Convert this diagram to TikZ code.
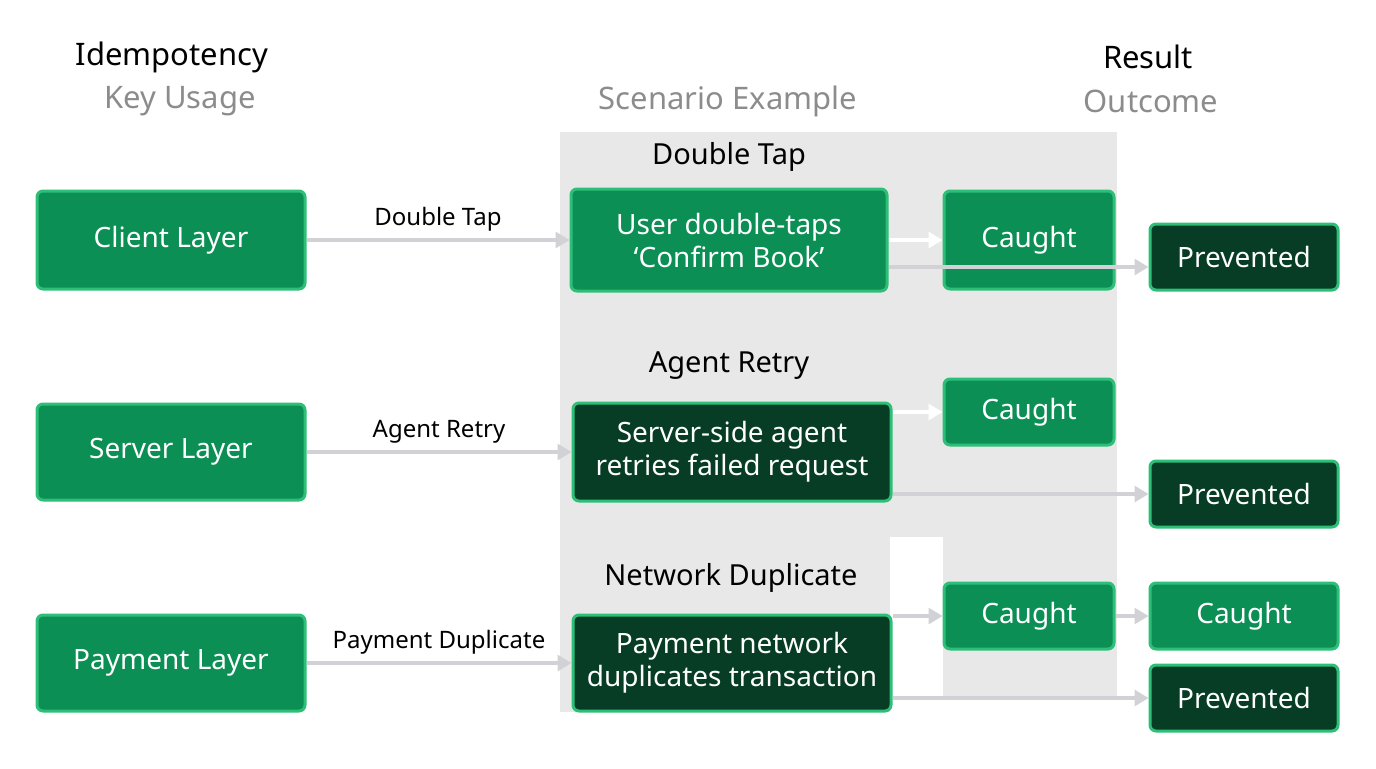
\documentclass[tikz,border=0pt]{standalone}
\usepackage{fontspec}
\setmainfont{Noto Sans}
\usetikzlibrary{positioning,arrows.meta}
\definecolor{midgreen}{HTML}{0B8F55}
\definecolor{darkgreen}{HTML}{063D24}
\definecolor{edgegreen}{HTML}{2DBE78}
\definecolor{bggrey}{HTML}{E8E8E8}
\definecolor{arrowgrey}{HTML}{D2D2D6}
\definecolor{subgrey}{HTML}{8C8C8C}
\tikzset{
  layer/.style={draw=edgegreen, line width=1.5pt, fill=midgreen, rounded corners=3pt,
    text=white, font=\fontsize{14}{16.5}\selectfont, align=center, inner sep=0pt},
  dark/.style={layer, fill=darkgreen},
  head/.style={font=\fontsize{15.5}{18}\selectfont},
  sub/.style={font=\fontsize{15.5}{18}\selectfont, text=subgrey},
  lbl/.style={font=\fontsize{12}{14}\selectfont},
  flow/.style={draw=arrowgrey, line width=1.6pt, -{Triangle[length=7pt,width=8pt]}},
  wflow/.style={flow, draw=white}
}
\begin{document}
\begin{tikzpicture}[x=0.5pt, y=-0.5pt]
\useasboundingbox (0,0) rectangle (1376,768);
% backdrop
\fill[bggrey] (560,132) rectangle (1117,537);
\fill[bggrey] (560,537) rectangle (890,712);
\fill[bggrey] (943,537) rectangle (1117,697);
% headers
\node[head] (h1) at (172,57) {Idempotency};
\node[sub] (h2) at (180,101) {Key Usage};
\node[sub] (h3) at (728,101) {Scenario Example};
\node[head] (h4) at (1148,57) {Result};
\node[sub] (h5) at (1151,101) {Outcome};
\node[head, font=\fontsize{14.5}{17}\selectfont] (t1) at (729,157) {Double Tap};
\node[head, font=\fontsize{14.5}{17}\selectfont] (t2) at (729,366) {Agent Retry};
\node[head, font=\fontsize{14.5}{17}\selectfont] (t3) at (731,578) {Network Duplicate};
% layers
\node[layer, minimum width=134pt, minimum height=49pt] (l1) at (171,240) {Client Layer};
\node[layer, minimum width=134pt, minimum height=48pt] (l2) at (171,452) {Server Layer};
\node[layer, minimum width=134pt, minimum height=48pt] (l3) at (171,663) {Payment Layer};
% scenarios
\node[layer, minimum width=158pt, minimum height=51pt] (s1) at (729,240) {User double-taps\\‘Confirm Book’};
\node[dark, minimum width=159pt, minimum height=49pt] (s2) at (732,452) {Server-side agent\\retries failed request};
\node[dark, minimum width=159pt, minimum height=48pt] (s3) at (732,663) {Payment network\\duplicates transaction};
% results
\node[layer, minimum width=85pt, minimum height=49pt] (c1) at (1029,240) {Caught};
\node[layer, minimum width=85pt, minimum height=33pt] (c2) at (1029,412) {Caught};
\node[layer, minimum width=85pt, minimum height=33pt] (c3) at (1029,616) {Caught};
\node[dark, minimum width=94pt, minimum height=33pt] (p1) at (1244,257) {Prevented};
\node[dark, minimum width=94pt, minimum height=33pt] (p2) at (1244,494) {Prevented};
\node[layer, minimum width=94pt, minimum height=33pt] (c4) at (1244,616) {Caught};
\node[dark, minimum width=94pt, minimum height=33pt] (p3) at (1244,698) {Prevented};
\coordinate (p1in) at ([yshift=-5pt]p1.west);
% connectors
\draw[flow] (l1) -- node[lbl, above, text=black] {Double Tap} (s1);
\draw[flow] (l2) -- node[lbl, above, text=black] {Agent Retry} (s2);
\draw[flow] (l3) -- node[lbl, above, text=black] {Payment Duplicate} (s3);
\draw[wflow] (s1) -- (c1);
\draw[flow] (s1.east |- p1in) -- (p1in);
\draw[wflow] (s2.east |- c2.west) -- (c2.west);
\draw[flow] (s2.east |- p2.west) -- (p2.west);
\draw[flow] (s3.east |- c3.west) -- (c3.west);
\draw[flow] (c3) -- (c4);
\draw[flow] (s3.east |- p3.west) -- (p3.west);
\end{tikzpicture}
\end{document}
